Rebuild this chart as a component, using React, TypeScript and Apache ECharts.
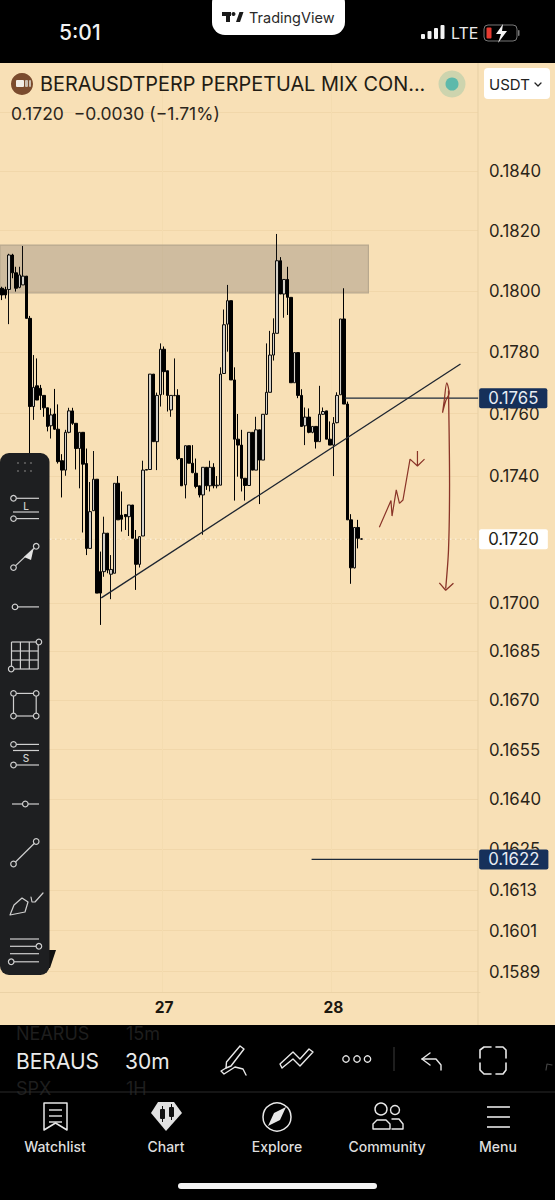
import React, { useEffect, useRef } from "react";
import * as echarts from "echarts";

const FONT = "Inter, 'Noto Sans', sans-serif";
const PAGE_BG = "#f8e0b6";

// [open, close, low, high], one 30-minute bar each
const candles: number[][] = [
  [0.18009,0.17987,0.1797,0.18014],[0.18005,0.17987,0.17975,0.18014],[0.18005,0.18119,0.17891,0.18123],[0.18119,0.1806,0.18042,0.18123],
  [0.1806,0.18009,0.17998,0.1808],[0.18012,0.18053,0.18009,0.1808],[0.1802,0.18049,0.1802,0.18149],[0.18049,0.1791,0.1791,0.18049],
  [0.1791,0.17623,0.17441,0.17918],[0.17623,0.17685,0.1758,0.1779],[0.1769,0.17644,0.17644,0.17779],[0.17682,0.17659,0.17612,0.17693],
  [0.17659,0.17619,0.1759,0.17659],[0.17619,0.17559,0.17543,0.17619],[0.17561,0.17596,0.1752,0.17617],[0.17599,0.1755,0.17548,0.1768],
  [0.1755,0.17446,0.1744,0.1763],[0.17449,0.17419,0.17332,0.1747],[0.17419,0.1754,0.17401,0.17548],[0.1754,0.17609,0.17537,0.17619],
  [0.17609,0.17569,0.17564,0.17619],[0.17569,0.17488,0.17421,0.17569],[0.17488,0.1754,0.17361,0.1754],[0.1754,0.17438,0.17221,0.1754],
  [0.1744,0.17171,0.1715,0.17488],[0.17171,0.17287,0.17171,0.17381],[0.1729,0.1739,0.1729,0.1748],[0.1739,0.17031,0.17031,0.1739],
  [0.17098,0.17031,0.16932,0.17161],[0.17098,0.17219,0.17082,0.17271],[0.17219,0.17103,0.17093,0.17219],[0.1709,0.17105,0.17012,0.1715],
  [0.17093,0.17377,0.17093,0.17377],[0.17377,0.17261,0.17261,0.174],[0.17276,0.17263,0.17224,0.17351],[0.17278,0.17271,0.17229,0.17278],
  [0.17271,0.17308,0.1721,0.17308],[0.17308,0.17203,0.17203,0.17308],[0.172,0.17121,0.17041,0.17229],[0.17121,0.17208,0.17111,0.1721],
  [0.1721,0.17419,0.1721,0.17449],[0.17419,0.17421,0.17419,0.17421],[0.17421,0.17728,0.17421,0.17728],[0.17728,0.1751,0.1751,0.17728],
  [0.1751,0.17659,0.17419,0.17668],[0.17661,0.17809,0.17623,0.17828],[0.17809,0.17736,0.17661,0.17818],[0.17739,0.17659,0.17607,0.17739],
  [0.17612,0.17659,0.1759,0.17659],[0.17658,0.17659,0.17658,0.17779],[0.17659,0.17456,0.17451,0.17679],[0.17456,0.17369,0.17369,0.17456],
  [0.17372,0.17497,0.17329,0.17497],[0.17497,0.17441,0.17441,0.17497],[0.17441,0.17411,0.17409,0.17499],[0.17409,0.17367,0.17361,0.17456],
  [0.17369,0.1734,0.17332,0.17369],[0.1734,0.17428,0.17214,0.17428],[0.17428,0.17369,0.17356,0.17428],[0.17369,0.17428,0.17351,0.17449],
  [0.17428,0.17369,0.17361,0.17441],[0.17369,0.17371,0.17361,0.174],[0.17371,0.17728,0.17371,0.1775],[0.1773,0.17889,0.1773,0.17939],
  [0.17891,0.17968,0.17801,0.1802],[0.17968,0.17709,0.17709,0.17968],[0.17709,0.17518,0.17322,0.1775],[0.17518,0.17499,0.17398,0.17599],
  [0.17499,0.17393,0.17351,0.17548],[0.17393,0.1737,0.17322,0.17393],[0.1737,0.1754,0.1737,0.1754],[0.1754,0.17419,0.17419,0.1754],
  [0.17419,0.17548,0.17419,0.1759],[0.17548,0.17451,0.17311,0.17548],[0.17451,0.17598,0.17451,0.17598],[0.17598,0.17669,0.17596,0.17828],
  [0.17669,0.1779,0.17669,0.17869],[0.1779,0.17861,0.17772,0.1791],[0.17861,0.181,0.17861,0.18189],[0.181,0.1799,0.1799,0.18112],
  [0.1799,0.18038,0.17912,0.18038],[0.18038,0.17979,0.17921,0.1808],[0.17979,0.177,0.177,0.17979],[0.177,0.17798,0.177,0.17798],
  [0.17798,0.17659,0.1765,0.17798],[0.17659,0.17559,0.17559,0.17679],[0.17561,0.17589,0.17499,0.1762],[0.17589,0.1754,0.17537,0.17617],
  [0.1754,0.17559,0.17537,0.17559],[0.17559,0.1751,0.17488,0.17559],[0.1751,0.17598,0.1751,0.1769],[0.17598,0.17607,0.17596,0.1762],
  [0.17609,0.17518,0.17518,0.17609],[0.17518,0.17499,0.17499,0.17575],[0.17499,0.17569,0.174,0.17589],[0.17571,0.17659,0.17569,0.17669],
  [0.17661,0.17908,0.17661,0.17908],[0.17908,0.17631,0.17631,0.18009],[0.17631,0.17261,0.17261,0.17639],[0.17261,0.1711,0.1706,0.17279],
  [0.1711,0.17237,0.17108,0.17237],[0.17237,0.17203,0.17171,0.17261],[0.172,0.17201,0.17198,0.17203],
];

// bar slots on the time axis; the day labels sit on midnight bars
const BAR_SLOTS = 136;
const dayLabels: Record<number, string> = { 46: "27", 94: "28" };
const categories = Array.from({ length: BAR_SLOTS }, (_, i) => dayLabels[i] ?? `bar${i}`);

const priceAxisMin = 0.15831;
const priceAxisMax = 0.18771;
const gridTicks = [0.186,0.184,0.182,0.18,0.178,0.176,0.174,0.172,0.17,0.1685,0.167,0.1655,0.164,0.1625,0.1613,0.1601,0.1589];
const labelTicks = [0.184,0.182,0.18,0.178,0.176,0.174,0.172,0.17,0.1685,0.167,0.1655,0.164,0.1625,0.1613,0.1601,0.1589];

// drawings, as [bar index, price]
const zoneBox = [[-0.5, 0.18152], [103.9, 0.17994]];
const trendLine = [[28.2, 0.17016], [130, 0.17761]];
const levelHigh = [[97.3, 0.1765], [135, 0.1765]];
const levelLow = [[87.8, 0.1622], [135, 0.1622]];
const lastPrice = [[-0.5, 0.172], [135, 0.172]];
const squiggle = [[107,0.17238],[110.3,0.17322],[110.6,0.17273],[111.8,0.17356],[112.7,0.17313],[113.7,0.17324],[115.7,0.17454],[117.8,0.17432],[117.8,0.1748],[117.8,0.17432],[119.8,0.17454]];
const arrowLoop = [[124.9,0.17603],[125.4,0.17644],[126.1,0.177],[126.8,0.17666],[125.9,0.17644],[124.9,0.17603]];
const arrowShaft = [[126.6,0.17675],[126.9,0.17377],[126.6,0.17166],[125.8,0.17045]];
const arrowHead = [[124,0.17063],[125.8,0.1704],[128,0.17062]];

const G = "#cfcfcf";
const line = (x1: number, y1: number, x2: number, y2: number, stroke = G, lineWidth = 1.2, z = 100) => ({ type: "line", z, silent: true, shape: { x1, y1, x2, y2 }, style: { stroke, lineWidth } });
const circle = (cx: number, cy: number, r: number, stroke = G, fill = "#1e1f21", lineWidth = 1.2, z = 101) => ({ type: "circle", z, silent: true, shape: { cx, cy, r }, style: { stroke, fill, lineWidth } });
const rect = (x: number, y: number, width: number, height: number, fill: string, r: any = 0, z = 50, stroke?: string) => ({ type: "rect", z, silent: true, shape: { x, y, width, height, r }, style: { fill, stroke } });
const poly = (points: number[][], stroke = "#e6e6e6", lineWidth = 1.4, z = 100) => ({ type: "polyline", z, silent: true, shape: { points }, style: { stroke, lineWidth, fill: "none", lineJoin: "round", lineCap: "round" } });
const shape = (points: number[][], fill: string, z = 100) => ({ type: "polygon", z, silent: true, shape: { points }, style: { fill } });
const text = (t: string, x: number, y: number, size: number, fill: string, align = "left", weight: any = 400, z = 60) => ({
  type: "text", z, silent: true,
  style: { text: t, x, y, fill, fontSize: size, fontFamily: FONT, fontWeight: weight, align, verticalAlign: "middle", textAlign: align, textVerticalAlign: "middle" },
});

function toolbar() {
  const dots = [18, 25, 31].flatMap((x) => [463, 471].map((y) => ({ type: "circle", z: 101, silent: true, shape: { cx: x, cy: y, r: 1.1 }, style: { fill: "#5c5c5c" } })));
  const gridLines: any[] = [];
  for (let i = 0; i < 4; i++) {
    gridLines.push(line(11.5 + i * 8.9, 642, 11.5 + i * 8.9, 669));
    gridLines.push(line(11.5, 642 + i * 9, 38.2, 642 + i * 9));
  }
  return [
    rect(0, 453, 49.5, 522, "#1e1f21", 9, 99),
    ...dots,
    line(13, 498.3, 39, 498.3), circle(13.5, 498.3, 2.8), text("L", 26, 505.5, 10, G, "center", 500, 101),
    line(13, 512, 39, 512), line(13, 518.6, 39, 518.6), circle(13.5, 518.6, 2.8),
    line(13.5, 567.6, 36.2, 546.3), circle(13.5, 567.6, 2.8), circle(36.2, 546.3, 2.8),
    shape([[24, 557], [33.5, 549], [31, 560]], "#e4e4e4", 101),
    line(15, 606.9, 39, 606.9), circle(15, 606.9, 2.8),
    ...gridLines, circle(38.9, 642, 2.8), circle(11.2, 669, 2.8),
    line(13.5, 693.4, 36.2, 693.4), line(36.2, 693.4, 36.2, 716), line(36.2, 716, 13.5, 716), line(13.5, 716, 13.5, 693.4),
    circle(13.5, 693.4, 2.8), circle(36.2, 693.4, 2.8), circle(13.5, 716, 2.8), circle(36.2, 716, 2.8),
    line(13.5, 744.4, 39, 744.4), circle(13.5, 744.4, 2.8), line(13, 750.5, 39, 750.5), text("S", 26, 757.6, 10, G, "center", 500, 101),
    line(13.5, 765, 39, 765), circle(13.5, 765, 2.8),
    line(12, 804, 39, 804), circle(25.3, 804, 2.8),
    line(13.5, 864, 36.2, 841.5), circle(13.5, 864, 2.8), circle(36.2, 841.5, 2.8),
    poly([[10, 915], [14, 905], [22, 898], [28, 902], [25, 912], [10, 915]], G, 1.2),
    poly([[31, 897], [32, 902], [35, 902], [43, 893]], G, 1.2),
    line(10, 939, 39, 939), line(10, 946.3, 39, 946.3), line(10, 953.7, 39, 953.7), line(10, 961.8, 39, 961.8),
    circle(38.9, 946.3, 2.8), circle(11.2, 961.8, 2.8),
  ];
}

function topBar() {
  return [
    rect(0, 0, 555, 63, "#000", 0, 50),
    text("5:01", 59, 32, 21, "#f2f2f2", "left", 500),
    rect(212, -10, 133, 45, "#fff", 13, 51),
    rect(222, 12, 9, 4, "#1a1a1a", 0, 52), rect(226, 12, 4, 10, "#1a1a1a", 0, 52),
    { type: "circle", z: 52, silent: true, shape: { cx: 233.5, cy: 14, r: 2 }, style: { fill: "#1a1a1a" } },
    shape([[236, 22], [239.5, 12], [243.5, 12], [240, 22]], "#1a1a1a", 52),
    text("TradingView", 249, 17, 14.5, "#2a2a2a", "left", 400, 52),
    rect(421, 34, 4, 5, "#f2f2f2", 1, 51), rect(427.5, 31, 4, 8, "#f2f2f2", 1, 51), rect(434, 28, 4, 11, "#f2f2f2", 1, 51), rect(440.5, 25, 4, 14, "#f2f2f2", 1, 51),
    text("LTE", 451, 33, 16, "#eaeaea", "left", 400),
    { type: "rect", z: 51, silent: true, shape: { x: 484, y: 25, width: 33, height: 16, r: 4 }, style: { fill: "none", stroke: "#777", lineWidth: 1 } },
    rect(486.5, 27.5, 5, 11, "#e63a30", 1, 52), rect(518, 30, 1.5, 6, "#777", 1, 51),
    shape([[503, 24], [496, 34], [501, 34], [498, 43], [507, 31], [502, 31]], "#f4f4f4", 53),
    { type: "circle", z: 60, silent: true, shape: { cx: 22, cy: 84, r: 11 }, style: { fill: "#7a4b2e" } },
    rect(16, 80, 8, 7, "#f0ece6", 1, 61), rect(25, 80, 3, 7, "#c9bdb0", 1, 61), rect(29, 80, 2, 7, "#c9bdb0", 1, 61),
    text("BERAUSDTPERP PERPETUAL MIX CON...", 40, 84, 19.9, "#221c14"),
    text("0.1720  \u22120.0030 (\u22121.71%)", 11, 113, 17.5, "#2c261c"),
    { type: "circle", z: 60, silent: true, shape: { cx: 452, cy: 84, r: 13.5 }, style: { fill: "#cdd4ae" } },
    { type: "circle", z: 61, silent: true, shape: { cx: 452, cy: 84, r: 6.5 }, style: { fill: "#5db9ab" } },
    rect(484, 68, 66, 31, "#ffffff", 4, 60),
    text("USDT", 489, 84, 15, "#222", "left", 400, 61),
    poly([[535, 83], [538, 86], [541, 83]], "#222", 1.3, 61),
  ];
}

function bottomBar() {
  const W = "#e8e8e8";
  const arcDots = [346, 357, 367.5].map((x) => ({ type: "circle", z: 70, silent: true, shape: { cx: x, cy: 1059, r: 3.2 }, style: { stroke: W, fill: "none", lineWidth: 1.3 } }));
  return [
    rect(0, 1025, 555, 175, "#000", 0, 50),
    text("NEARUS", 16, 1033, 18, "#1e1e1e", "left", 400, 60),
    text("15m", 126, 1033, 18, "#1e1e1e", "left", 400, 60),
    text("BERAUS", 16, 1061, 21, "#eaeaea", "left", 400, 60),
    text("30m", 125, 1061, 21, "#eaeaea", "left", 400, 60),
    text("SPX", 16, 1088, 18, "#1e1e1e", "left", 400, 60),
    text("1H", 126, 1088, 18, "#1e1e1e", "left", 400, 60),
    poly([[240, 1046], [244, 1049], [231, 1066], [226, 1068], [226.5, 1062], [240, 1046]], W),
    poly([[226, 1068], [221, 1071], [224, 1074], [235, 1067], [243, 1069], [246, 1075]], W),
    poly([[282, 1068], [293, 1059], [300, 1066], [313, 1052], [309, 1049], [300, 1059], [293, 1052], [280, 1064], [282, 1068]], W),
    ...arcDots,
    line(394, 1047, 394, 1071, "#333", 1.2, 70),
    poly([[430, 1053], [422, 1059], [430, 1065]], W),
    poly([[422, 1059], [436, 1059], [441, 1065], [441, 1070]], W),
    poly([[480, 1058], [480, 1050], [484, 1047], [491, 1047]], W, 1.6),
    poly([[496, 1047], [503, 1047], [506, 1050], [506, 1058]], W, 1.6),
    poly([[480, 1063], [480, 1070], [484, 1074], [491, 1074]], W, 1.6),
    poly([[496, 1074], [503, 1074], [506, 1070], [506, 1063]], W, 1.6),
    poly([[552, 1065], [547, 1064], [546, 1070]], "#444", 1.2),
    line(0, 1092, 555, 1092, "#2b2b2b", 1, 70),
    // tab bar
    poly([[44, 1130], [44, 1103], [67, 1103], [67, 1130], [55.5, 1123], [44, 1130]], W, 1.5),
    line(49, 1110, 62, 1110, W, 1.4, 70), line(49, 1116, 62, 1116, W, 1.4, 70), line(49, 1122, 62, 1122, W, 1.4, 70),
    shape([[158, 1102], [174, 1102], [182, 1113], [166, 1131], [151, 1113]], "#e2e2e2", 70),
    rect(160, 1109, 5, 10, "#111", 1, 71), rect(169, 1107, 5, 10, "#111", 1, 71),
    line(162.5, 1106, 162.5, 1122, "#111", 1, 71), line(171.5, 1104, 171.5, 1120, "#111", 1, 71),
    { type: "circle", z: 70, silent: true, shape: { cx: 277, cy: 1117, r: 14 }, style: { stroke: W, fill: "none", lineWidth: 1.5 } },
    shape([[286, 1107], [280, 1120], [268, 1126], [274, 1113]], W, 70),
    { type: "circle", z: 70, silent: true, shape: { cx: 381, cy: 1109, r: 6 }, style: { stroke: W, fill: "none", lineWidth: 1.4 } },
    { type: "circle", z: 70, silent: true, shape: { cx: 395, cy: 1110, r: 4.5 }, style: { stroke: W, fill: "none", lineWidth: 1.4 } },
    poly([[373, 1129], [373, 1124], [377, 1120], [386, 1120], [390, 1124], [390, 1129], [373, 1129]], W),
    poly([[392, 1119], [399, 1119], [403, 1124], [403, 1129], [392, 1129]], W),
    line(487, 1107, 510, 1107, W, 1.6, 70), line(487, 1117, 510, 1117, W, 1.6, 70), line(487, 1127, 510, 1127, W, 1.6, 70),
    text("Watchlist", 55, 1146, 14, "#dedede", "center", 500, 70),
    text("Chart", 166, 1146, 14, "#dedede", "center", 500, 70),
    text("Explore", 277, 1146, 14, "#dedede", "center", 500, 70),
    text("Community", 387, 1146, 14, "#dedede", "center", 500, 70),
    text("Menu", 498, 1146, 14, "#dedede", "center", 500, 70),
    rect(178, 1183, 199, 6, "#f4f4f4", 3, 70),
  ];
}

const drawing = (data: number[][], color: string, width = 1.3, extra: any = {}) => ({
  type: "line", xAxisIndex: 1, yAxisIndex: 0, data, symbol: "none", silent: true, animation: false,
  lineStyle: { color, width }, z: 6, ...extra,
});
const tag = (bg: string, fg: string) => ({
  show: true, formatter: (p: any) => p.value[1].toFixed(4), backgroundColor: bg, color: fg, fontFamily: FONT, fontSize: 16.8,
  padding: [2, 9, 1, 9], borderRadius: 2, distance: 1, align: "left",
});

export default function App() {
  const ref = useRef<HTMLDivElement>(null);
  useEffect(() => {
    const chart = echarts.init(ref.current!, null, { renderer: "svg" });
    const RED = "#8a3428";
    chart.setOption({
      animation: false,
      backgroundColor: PAGE_BG,
      grid: { left: -1.53, top: 62, width: 481.44, height: 930, containLabel: false },
      xAxis: [
        {
          type: "category", data: categories, boundaryGap: true,
          axisLine: { show: true, lineStyle: { color: "#ebd2a6" } }, axisTick: { show: false },
          axisLabel: {
            interval: (i: number) => i in dayLabels, formatter: (v: string) => (v.startsWith("bar") ? "" : v),
            color: "#1c170f", fontFamily: FONT, fontSize: 15.5, fontWeight: 700, margin: 7,
          },
          splitLine: { show: true, interval: (i: number) => i in dayLabels, lineStyle: { color: "#f4dcb0" } },
        },
        { type: "value", min: -0.5, max: 135.5, show: false, splitLine: { show: false } },
      ],
      yAxis: {
        type: "log", logBase: 10, position: "right", min: priceAxisMin, max: priceAxisMax, scale: true,
        axisLine: { show: false },
        axisTick: { show: false, customValues: gridTicks },
        axisLabel: { customValues: labelTicks, formatter: (v: number) => v.toFixed(4), color: "#2a2418", fontFamily: FONT, fontSize: 16.8, margin: 9, hideOverlap: false },
        splitLine: { show: true, lineStyle: { color: "#f1d7aa", width: 1 } },
      },
      series: [
        drawing([], "#000", 1, {
          z: 1,
          markArea: { silent: true, itemStyle: { color: "rgba(130,120,115,0.34)", borderColor: "#b8a88e", borderWidth: 1.2 }, data: [[{ coord: zoneBox[0] }, { coord: zoneBox[1] }]] },
        }),
        drawing(lastPrice, "#fff8ea", 1, { z: 2, lineStyle: { color: "#fffaf0", width: 1, type: [1.5, 3.5] }, endLabel: tag("#ffffff", "#221c14") }),
        {
          type: "candlestick", xAxisIndex: 0, yAxisIndex: 0, data: candles, barWidth: 3, z: 3, silent: true,
          itemStyle: { color: "#d4d0c8", color0: "#000", borderColor: "#0c0c0c", borderColor0: "#000", borderWidth: 1 },
        },
        drawing(trendLine, "#1d2530", 1.3),
        drawing(levelHigh, "#1d2a3a", 1.2, { endLabel: tag("#16305a", "#e8edf4") }),
        drawing(levelLow, "#1d2a3a", 1.2, { endLabel: tag("#16305a", "#e8edf4") }),
        drawing(squiggle, RED, 1.2),
        drawing(arrowLoop, RED, 1.2, { smooth: 0.3 }),
        drawing(arrowShaft, RED, 1.3, { smooth: 0.3 }),
        drawing(arrowHead, RED, 1.3),
      ],
      graphic: {
        elements: [
          rect(478, 62, 5, 930, PAGE_BG, 0, 1),
          line(478, 62, 478, 1025, "#e6cfa4", 1, 1),
          ...topBar(),
          ...toolbar(),
          shape([[49, 950], [56, 950], [50, 968], [49, 968]], "#111", 60),
          ...bottomBar(),
        ],
      },
    });
    return () => chart.dispose();
  }, []);
  return <div ref={ref} style={{ position: "absolute", left: 0, top: 0, width: 555, height: 1200 }} />;
}
